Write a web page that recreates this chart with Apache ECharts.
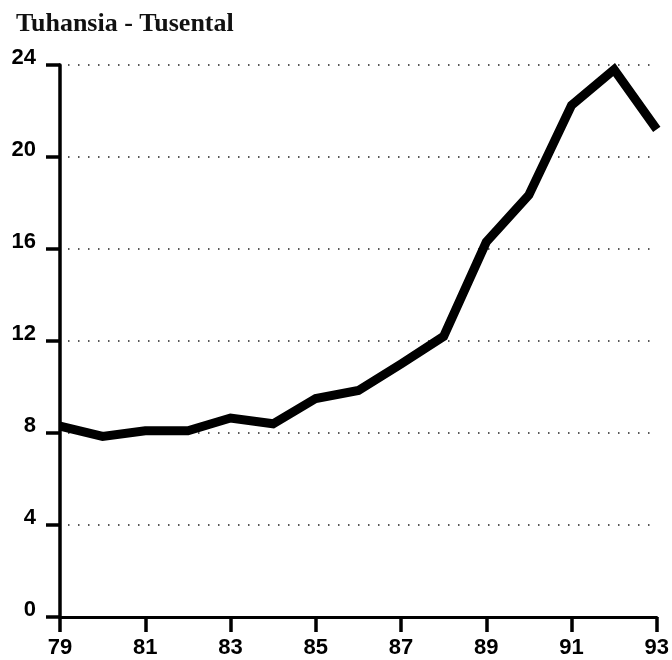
<!DOCTYPE html>
<html><head><meta charset="utf-8">
<script src="https://cdn.jsdelivr.net/npm/echarts@6/dist/echarts.min.js"></script>
<style>html,body{margin:0;padding:0;background:#fff}#c{width:672px;height:660px}</style>
</head><body><div id="c"></div>
<script>
var titleText = 'Tuhansia - Tusental';
var years = ['79','80','81','82','83','84','85','86','87','88','89','90','91','92','93'];
var values = [8.3, 7.85, 8.1, 8.1, 8.65, 8.4, 9.5, 9.85, 11.0, 12.2, 16.3, 18.35, 22.25, 23.8, 21.2];
var yTicks = [0, 4, 8, 12, 16, 20, 24];

var chart = echarts.init(document.getElementById('c'));
chart.setOption({
  animation: false,
  backgroundColor: '#fff',
  title: {
    text: titleText, left: 11, top: 6,
    textStyle: {fontFamily: 'Liberation Serif', fontWeight: 'bold', fontSize: 26, color: '#111'}
  },
  grid: {left: 60, right: 15, top: 65, bottom: 43},
  xAxis: {
    type: 'category', data: years, boundaryGap: false,
    axisLine: {lineStyle: {color: '#000', width: 3}},
    axisTick: {show: true, interval: 1, length: 15, lineStyle: {color: '#000', width: 3.5}},
    axisLabel: {interval: 1, margin: 20, color: '#000', fontFamily: 'Liberation Sans', fontWeight: 'bold', fontSize: 22},
    splitLine: {show: false}
  },
  yAxis: {
    type: 'value', min: 0, max: 24, interval: 4,
    axisLine: {show: true, lineStyle: {color: '#000', width: 3.5}},
    axisTick: {show: true, length: 14, lineStyle: {color: '#000', width: 3.5}},
    axisLabel: {margin: 24, color: '#000', fontFamily: 'Liberation Sans', fontWeight: 'bold', fontSize: 22, verticalAlign: 'bottom', lineHeight: 22, padding: [0,0,-4,0],
      formatter: function (v) { return yTicks.indexOf(v) >= 0 ? String(v) : ''; }},
    splitLine: {show: true, lineStyle: {color: '#222', width: 1.5, type: [1.5, 8.5], dashOffset: -8}}
  },
  series: [{
    type: 'line', data: values, symbol: 'none',
    lineStyle: {color: '#000', width: 9, join: 'miter'}
  }]
});
</script></body></html>
